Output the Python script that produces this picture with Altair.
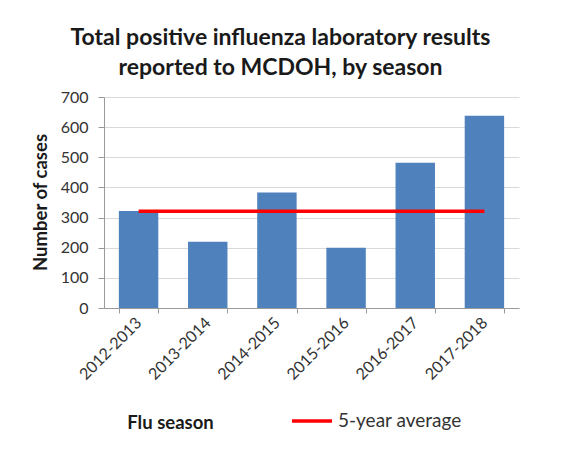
import altair as alt
import pandas as pd

seasons = ["2012-2013", "2013-2014", "2014-2015", "2015-2016", "2016-2017", "2017-2018"]
cases = [322, 220, 383, 200, 482, 638]
five_year_avg = [321, 321, 321, 321, 321, 321]
series_name = "5-year average"
y_ticks = [0, 100, 200, 300, 400, 500, 600, 700]

df = pd.DataFrame({"season": seasons, "cases": cases, "avg": five_year_avg,
                   "series": [series_name] * len(seasons)})

FONT = "Lato"
TXT = "#333333"

x_axis = alt.Axis(title="Flu season", labelAngle=-45, labelFontSize=16,
                  labelColor=TXT, labelFont=FONT, tickBand="extent",
                  labelAlign="right", labelBaseline="middle",
                  domainColor="#9a9a9a", tickColor="#9a9a9a", tickSize=5,
                  titleFont=FONT, titleFontSize=18.5, titleFontWeight="bold",
                  titleColor="#1a1a1a", titleX=66, titleY=114,
                  titleAlign="center", titleBaseline="middle",
                  labelPadding=7)
y_axis = alt.Axis(title="Number of cases", values=y_ticks, labelOverlap=False,
                  labelFontSize=16, labelColor=TXT, labelFont=FONT,
                  domainColor="#9a9a9a", tickColor="#9a9a9a", tickSize=6,
                  gridColor="#d9d9d9", titleFont=FONT, titleFontSize=18.5,
                  titleFontWeight="bold", titleColor="#1a1a1a",
                  titleX=-64, titleY=105, titleAlign="center", titleBaseline="middle",
                  labelPadding=10)

x_scale = alt.Scale(paddingInner=0.43, paddingOuter=0.215)
y_scale = alt.Scale(domain=[0, 700], nice=False)

bars = alt.Chart(df).mark_bar(color="#4F81BD").encode(
    x=alt.X("season:N", sort=seasons, scale=x_scale, axis=x_axis),
    y=alt.Y("cases:Q", scale=y_scale, axis=y_axis),
)

line = alt.Chart(df).mark_line(strokeWidth=3.5).encode(
    x=alt.X("season:N", sort=seasons, scale=x_scale, axis=x_axis),
    y=alt.Y("avg:Q", scale=y_scale, axis=y_axis),
    color=alt.Color("series:N", scale=alt.Scale(range=["#FF0000"]),
                    legend=alt.Legend(title=None, orient="none", legendX=186, legendY=302,
                                      symbolType="stroke", symbolSize=1600,
                                      symbolStrokeWidth=3.5, labelFontSize=19,
                                      labelFont=FONT, labelColor=TXT, labelOffset=4)),
)

chart = alt.layer(bars, line).properties(
    width=415, height=211,
    padding={"left": 96, "top": 89, "right": 40, "bottom": 150},
    autosize=alt.AutoSizeParams(type="none"),
    title=alt.Title(["Total positive influenza laboratory results",
                     "reported to MCDOH, by season"],
                    font=FONT, fontSize=23, fontWeight="bold", color="#1a1a1a",
                    lineHeight=30, anchor="middle", dx=-31, offset=9),
).configure_view(stroke=None)

chart.save("out.html", embed_options={"renderer": "svg", "actions": False})
